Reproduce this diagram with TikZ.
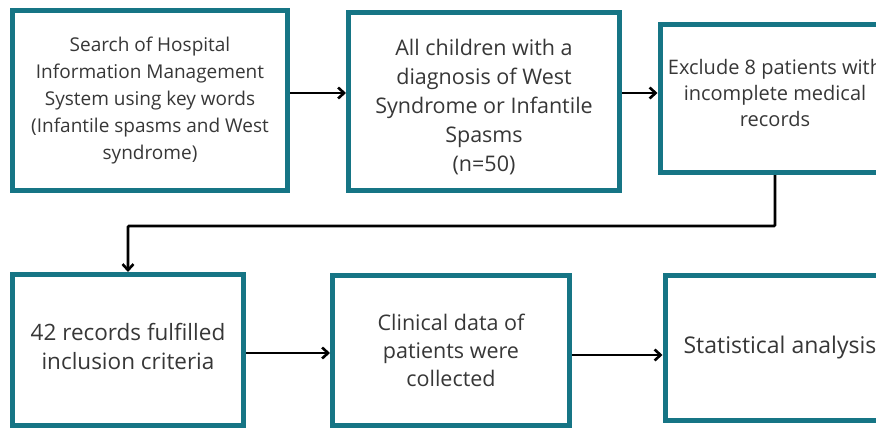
\documentclass[tikz,border=0pt]{standalone}
\usepackage{fontspec}
\setmainfont{Open Sans}
\usetikzlibrary{arrows.meta}

\definecolor{boxteal}{RGB}{22,117,133}
\definecolor{txtgray}{RGB}{55,55,55}

\begin{document}
\begin{tikzpicture}[x=1pt,y=-1pt,
	blk/.style={draw=boxteal,line width=5pt,fill=white,align=center,text=txtgray,inner sep=0pt,font=\fontsize{21.5}{29}\selectfont},
	flow/.style={line width=2.8pt,-{Straight Barb[length=6pt,width=11pt,line width=2.6pt]}}]
		\useasboundingbox (0,0) rectangle (876,428);
		\fill[white] (0,0) rectangle (876,428);
		\clip (0,0) rectangle (876,428);
		
		% top row
		\node[blk,minimum width=275,minimum height=180,font=\fontsize{19}{27}\selectfont] (search) at (150,100.5)
			{Search of Hospital\\Information Management\\System using key words\\(Infantile spasms and West\\syndrome)};
		\node[blk,minimum width=271,minimum height=178] (children) at (484,101.5)
			{\rule{0pt}{27.5pt}\\[-29pt]All children with a\\diagnosis of West\\Syndrome or Infantile\\Spasms\\(n=50)};
		\node[blk,minimum width=230,minimum height=148,font=\fontsize{20}{26}\selectfont] (exclude) at (775,98.5)
			{Exclude 8 patients with\\incomplete medical\\records\\[-14pt]};
		
		% bottom row
		\node[blk,minimum width=231,minimum height=151,font=\fontsize{22.5}{29}\selectfont] (records) at (128,350)
			{42 records fulfilled\\inclusion criteria\\[-22pt]};
		\node[blk,minimum width=237,minimum height=150,font=\fontsize{21.5}{28}\selectfont] (clinical) at (451,350.5)
			{Clinical data of\\patients were\\collected};
		\node[blk,minimum width=230,minimum height=145,font=\fontsize{23}{29}\selectfont] (stats) at (780,348)
			{Statistical analysis};
		
		\coordinate (a1) at ([yshift=7.5pt]search.east);
		\coordinate (a2) at ([yshift=8.5pt]children.east);
		\coordinate (a3) at ([yshift=-3pt]records.east);
		\coordinate (a4) at ([yshift=-4.5pt]clinical.east);
		
		\draw[flow] (a1) -- (a1 -| children.west);
		\draw[flow] (a2) -- (a2 -| exclude.west);
		\draw[flow,rounded corners=1pt] (exclude.south) -- ++(0,51) -| (records.north);
		\draw[flow] (a3) -- (a3 -| clinical.west);
		\draw[flow] (a4) -- (a4 -| stats.west);
	\end{tikzpicture}
\end{document}
